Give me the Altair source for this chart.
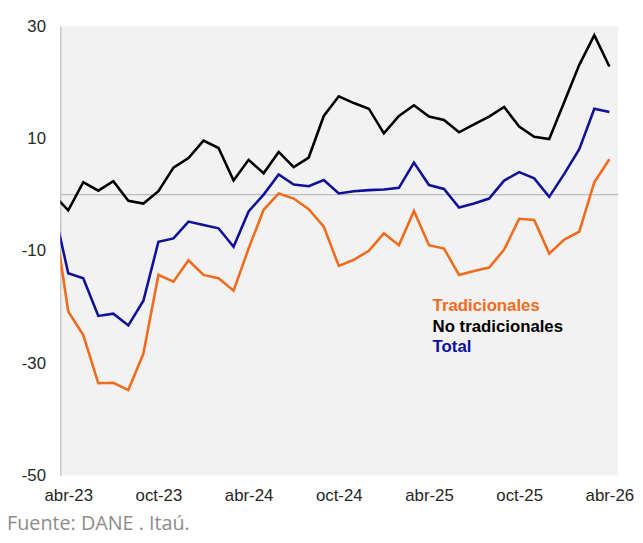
import altair as alt
import pandas as pd

# month index: -1 = mar-23 (partly clipped at the axis), 0 = abr-23 ... 36 = abr-26
month_index = list(range(-1, 37))
tick_labels = ["abr-23", "oct-23", "abr-24", "oct-24", "abr-25", "oct-25", "abr-26"]
tick_values = [0, 6, 12, 18, 24, 30, 36]
y_ticks = [30, 10, -10, -30, -50]

tradicionales = [-2.9, -20.8, -25.0, -33.6, -33.5, -34.8, -28.3, -14.3, -15.5, -11.7,
                 -14.3, -14.9, -17.1, -9.6, -2.7, 0.2, -0.7, -2.6, -5.7, -12.7,
                 -11.6, -10.0, -6.9, -9.0, -2.9, -9.0, -9.6, -14.3, -13.6, -13.0,
                 -9.8, -4.3, -4.5, -10.5, -8.0, -6.6, 2.2, 6.3]
no_tradicionales = [0.0, -2.8, 2.2, 0.7, 2.4, -1.1, -1.6, 0.6, 4.8, 6.5,
                    9.6, 8.3, 2.5, 6.2, 3.8, 7.6, 4.9, 6.6, 14.0, 17.5,
                    16.3, 15.3, 10.9, 14.0, 15.9, 13.9, 13.3, 11.1, 12.5, 13.9,
                    15.6, 12.1, 10.3, 9.9, 16.5, 23.1, 28.4, 22.8]
total = [-2.0, -14.0, -14.9, -21.6, -21.2, -23.3, -18.9, -8.4, -7.8, -4.8,
         -5.4, -6.0, -9.3, -3.0, 0.0, 3.6, 1.8, 1.5, 2.6, 0.2,
         0.6, 0.8, 0.9, 1.2, 5.7, 1.7, 1.0, -2.3, -1.6, -0.7,
         2.5, 4.0, 2.9, -0.4, 3.7, 8.1, 15.3, 14.7]

series_names = ["Tradicionales", "No tradicionales", "Total"]
series_colors = ["#F26A1B", "#000000", "#10109A"]

rows = []
for name, vals in zip(series_names, [tradicionales, no_tradicionales, total]):
    for m, v in zip(month_index, vals):
        rows.append({"m": m, "v": v, "serie": name})
df = pd.DataFrame(rows)

label_expr = "[" + ",".join("'%s'" % t for t in tick_labels) + "][round(datum.value / 6)]"

x_scale = alt.Scale(domain=[-0.526, 36.59], nice=False, zero=False)
y_scale = alt.Scale(domain=[-50, 30], nice=False, zero=False)

x_axis = alt.Axis(values=tick_values, labelExpr=label_expr, title=None, grid=False,
                  ticks=False, domain=False, labelPadding=12, labelFontSize=17,
                  labelFont="Liberation Sans", labelColor="#262626",
                  labelFlush=False, labelOverlap=False)
y_axis = alt.Axis(values=y_ticks, labelExpr="toString(datum.value)", title=None,
                  grid=False, ticks=False,
                  domain=True, domainColor="#BDBDBD", domainWidth=1.2,
                  labelPadding=15, labelFontSize=17, labelFont="Liberation Sans",
                  labelColor="#262626")

zero_rule = alt.Chart(pd.DataFrame({"y": [0]})).mark_rule(
    color="#BDBDBD", strokeWidth=1.2
).encode(y=alt.Y("y:Q", scale=y_scale, axis=y_axis))

lines = alt.Chart(df).mark_line(strokeWidth=2.6, clip=True).encode(
    x=alt.X("m:Q", scale=x_scale, axis=x_axis),
    y=alt.Y("v:Q", scale=y_scale, axis=y_axis),
    color=alt.Color("serie:N", scale=alt.Scale(domain=series_names, range=series_colors),
                    legend=None),
    order=alt.Order("m:Q"),
)

legend_layers = []
for i, (name, col) in enumerate(zip(series_names, series_colors)):
    legend_layers.append(
        alt.Chart(pd.DataFrame({"t": [name]})).mark_text(
            align="left", baseline="alphabetic", fontSize=17, fontWeight="bold",
            font="Liberation Sans", color=col
        ).encode(text="t:N", x=alt.value(377), y=alt.value(289 + 20.5 * i))
    )

footer = alt.Chart(pd.DataFrame({"t": ["Fuente: DANE . Itaú."]})).mark_text(
    align="left", baseline="alphabetic", fontSize=20, font="Open Sans",
    color="#8C8C8C"
).encode(text="t:N", x=alt.value(-54), y=alt.value(510))

chart = alt.layer(zero_rule, lines, *legend_layers, footer).properties(
    width=565, height=455,
    padding={"left": 53, "top": 15, "right": 17, "bottom": 57},
    autosize=alt.AutoSizeParams(type="none"),
    background="white",
).configure_view(fill="#F2F2F2", stroke=None)

chart.save("out.html", embed_options={"renderer": "svg", "actions": False})
